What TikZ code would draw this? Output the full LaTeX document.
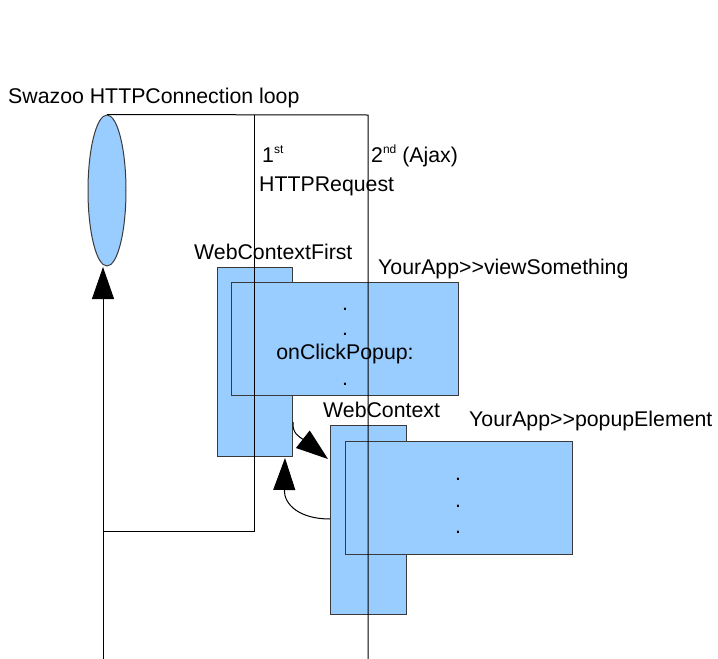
\documentclass[tikz,border=0pt]{standalone}
\usepackage{fontspec}
\setmainfont{Liberation Sans}
\usetikzlibrary{shapes.geometric,arrows.meta,calc}
\definecolor{boxblue}{HTML}{99CCFF}
\definecolor{boxline}{HTML}{3A3A3A}
\tikzset{
  lbl/.style={inner sep=0pt, anchor=base west, font=\fontsize{21.3}{25}\selectfont},
  ctr/.style={inner sep=0pt, anchor=base, font=\fontsize{21.3}{25}\selectfont},
  ctxbox/.style={draw=boxline, fill=boxblue, line width=1pt, inner sep=0pt, anchor=north west},
  wire/.style={draw=black, line width=1pt},
  bigtip/.style={-{Triangle[length=32pt,width=22pt]}},
}
\newcommand{\supr}[1]{\raisebox{9pt}{\fontsize{12}{12}\selectfont #1}}
\begin{document}
\begin{tikzpicture}[x=1pt,y=-1pt]
\useasboundingbox (0,0) rectangle (718,659);
% loop ellipse
\node[ellipse, draw=boxline, fill=boxblue, line width=1pt, inner sep=0pt,
      minimum width=38pt, minimum height=151pt] (loop) at (107,190.5) {};
\node[lbl] (looplbl) at (8,103) {Swazoo HTTPConnection loop};

% boxes
\node[ctxbox, minimum width=75pt, minimum height=189pt] (wcf) at (217,267) {};
\node[ctxbox, minimum width=227pt, minimum height=113pt] (view) at (231,282) {};
\node[ctxbox, minimum width=76pt, minimum height=189pt] (wc) at (330,425) {};
\node[ctxbox, minimum width=227pt, minimum height=113pt] (popup) at (345,441) {};

% wires
\coordinate (r1top) at (254,115);
\coordinate (r1bot) at (254,531);
\coordinate (r1left) at (103,531);
\coordinate (loopin) at (103,267);
\coordinate (loopbot) at (103,659);
\coordinate (r2top) at (368,115);
\coordinate (r2bot) at (368,659);
\draw[wire] (loop.north) -- (r2top) -- (r2bot);
\draw[wire] (r1top) -- (r1bot) -- (r1left);
\draw[wire, bigtip] (loopbot) -- (loopin);

% curved arrows
\draw[wire, bigtip] ($(wcf.north east)+(0,155)$) .. controls (292,434) and (300,437) .. ($(wc.north west)+(-2,34)$);
\draw[wire, bigtip] ($(wc.north west)+(0,94)$) .. controls (300,519) and (284,505) .. ($(wcf.south east)+(-8,1)$);

% labels
\node[lbl] (first) at (262,162) {1\supr{st}};
\node[lbl] (second) at (371,162) {2\supr{nd} (Ajax)};
\node[lbl] (req) at (259,191) {HTTPRequest};
\node[lbl] (wcflbl) at (194,259) {WebContextFirst};
\node[lbl] (viewlbl) at (378,274) {YourApp>{}>viewSomething};
\node[lbl] (wclbl) at (323,417) {WebContext};
\node[lbl] (popuplbl) at (469,426) {YourApp>{}>popupElement};

% box contents
\node[ctr] (vd1) at (345,310) {.};
\node[ctr] (vd2) at (345,335) {.};
\node[ctr] (vclick) at (345,359) {onClickPopup:};
\node[ctr] (vd3) at (345,385) {.};
\node[ctr] (pd1) at (458,480) {.};
\node[ctr] (pd2) at (458,507) {.};
\node[ctr] (pd3) at (458,533) {.};
\end{tikzpicture}
\end{document}
